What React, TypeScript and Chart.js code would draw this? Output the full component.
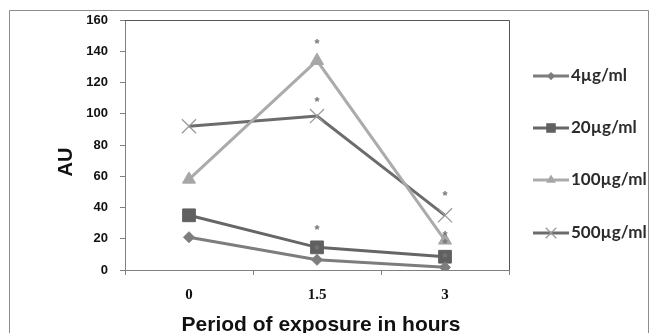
import React, { useEffect, useRef } from "react";
import { Chart, registerables } from "chart.js";

Chart.register(...registerables);

const categories = ["0", "1.5", "3"];
const yTicks = [0, 20, 40, 60, 80, 100, 120, 140, 160];
const series4 = [21, 6.5, 1.7];
const series20 = [35, 14.5, 8.5];
const series100 = [58, 134, 19];
const series500 = [92, 98.5, 35];
const seriesLabels = ["4µg/ml", "20µg/ml", "100µg/ml", "500µg/ml"];
// asterisk annotations: category index and value
const starCats = [1, 1, 1, 1, 2, 2, 2, 2];
const starValues = [146, 109, 27.5, 14.5, 49, 23.5, 18, 9.5];

const seriesStyle = [
  { line: "#7d7d7d", point: "#7d7d7d", style: "rectRot", radius: 5.5, pbw: 1 },
  { line: "#666666", point: "#606060", style: "rect", radius: 9, pbw: 1 },
  { line: "#ababab", point: "#a6a6a6", style: "triangle", radius: 7.5, pbw: 1 },
  { line: "#6c6c6c", point: "#9a9a9a", style: "crossRot", radius: 10, pbw: 1.3 },
];

function drawMarker(ctx: CanvasRenderingContext2D, style: string, x: number, y: number, r: number, color: string, bw: number) {
  ctx.save();
  ctx.fillStyle = color;
  ctx.strokeStyle = color;
  ctx.lineWidth = bw;
  ctx.beginPath();
  if (style === "rectRot") {
    ctx.moveTo(x, y - r);
    ctx.lineTo(x + r, y);
    ctx.lineTo(x, y + r);
    ctx.lineTo(x - r, y);
    ctx.closePath();
    ctx.fill();
  } else if (style === "rect") {
    const s = r * 0.707;
    ctx.rect(x - s, y - s, 2 * s, 2 * s);
    ctx.fill();
  } else if (style === "triangle") {
    ctx.moveTo(x, y - r);
    ctx.lineTo(x + r * 0.87, y + r * 0.5);
    ctx.lineTo(x - r * 0.87, y + r * 0.5);
    ctx.closePath();
    ctx.fill();
  } else {
    const s = r * 0.707;
    ctx.moveTo(x - s, y - s);
    ctx.lineTo(x + s, y + s);
    ctx.moveTo(x + s, y - s);
    ctx.lineTo(x - s, y + s);
    ctx.stroke();
  }
  ctx.restore();
}

export default function App() {
  const ref = useRef<HTMLCanvasElement | null>(null);
  useEffect(() => {
    document.body.style.margin = "0";
    const canvas = ref.current!;
    const values = [series4, series20, series100, series500];
    const decorPlugin = {
      id: "decor",
      beforeDraw(chart: any) {
        const ctx = chart.ctx;
        ctx.save();
        ctx.fillStyle = "#ffffff";
        ctx.fillRect(0, 0, chart.width, chart.height);
        ctx.strokeStyle = "#8c8c8c";
        ctx.lineWidth = 1;
        ctx.beginPath();
        ctx.moveTo(9.5, 340);
        ctx.lineTo(9.5, 10.5);
        ctx.lineTo(648.5, 10.5);
        ctx.lineTo(648.5, 340);
        ctx.stroke();
        ctx.restore();
      },
      afterDraw(chart: any) {
        const ctx = chart.ctx;
        const a = chart.chartArea;
        const xs = chart.scales.x;
        const ys = chart.scales.y;
        ctx.save();
        ctx.strokeStyle = "#555555";
        ctx.lineWidth = 1;
        ctx.beginPath();
        ctx.moveTo(a.left, Math.round(a.top) + 0.5);
        ctx.lineTo(Math.round(a.right) + 0.5, Math.round(a.top) + 0.5);
        ctx.lineTo(Math.round(a.right) + 0.5, a.bottom);
        ctx.stroke();
        ctx.fillStyle = "#777777";
        ctx.font = "bold 13px 'Liberation Sans'";
        ctx.textAlign = "center";
        ctx.textBaseline = "middle";
        for (let i = 0; i < starCats.length; i++) {
          const px = xs.getPixelForValue(starCats[i]);
          const py = ys.getPixelForValue(starValues[i]);
          ctx.fillText("*", px, py + 3);
        }
        ctx.fillStyle = "#111111";
        ctx.font = "bold 21px 'Liberation Sans'";
        ctx.textAlign = "center";
        ctx.textBaseline = "alphabetic";
        ctx.fillText("Period of exposure in hours", 321, 331);
        ctx.save();
        ctx.translate(72, 162);
        ctx.rotate(-Math.PI / 2);
        ctx.font = "bold 20px 'Liberation Sans'";
        ctx.fillText("AU", 0, 0);
        ctx.restore();
        const legendY = [76, 128, 180, 233];
        chart.data.datasets.forEach((ds: any, i: number) => {
          const y = legendY[i];
          const st = seriesStyle[i];
          ctx.strokeStyle = st.line;
          ctx.lineWidth = 3;
          ctx.beginPath();
          ctx.moveTo(533, y);
          ctx.lineTo(569, y);
          ctx.stroke();
          drawMarker(ctx, st.style, 551, y, st.radius * 0.75, st.point, st.pbw);
          ctx.fillStyle = "#2b2b2b";
          ctx.font = "bold 17px Lato";
          ctx.textAlign = "left";
          ctx.textBaseline = "middle";
          ctx.fillText(ds.label, 571, y);
        });
        ctx.restore();
      },
    };
    const chart = new Chart(canvas, {
      type: "line",
      data: {
        labels: categories,
        datasets: values.map((v, i) => ({
          label: seriesLabels[i],
          data: v,
          borderColor: seriesStyle[i].line,
          backgroundColor: seriesStyle[i].point,
          pointBackgroundColor: seriesStyle[i].point,
          pointBorderColor: seriesStyle[i].point,
          pointStyle: seriesStyle[i].style as any,
          pointRadius: seriesStyle[i].radius,
          pointBorderWidth: seriesStyle[i].pbw,
          borderWidth: 3,
          tension: 0,
          fill: false,
        })),
      },
      options: {
        animation: false,
        responsive: false,
        maintainAspectRatio: false,
        events: [],
        layout: { padding: { left: 0, top: 20, right: 140, bottom: 0 } },
        plugins: {
          legend: { display: false },
          tooltip: { enabled: false },
        },
        scales: {
          x: {
            type: "category",
            offset: true,
            grid: {
              offset: true,
              drawOnChartArea: false,
              drawTicks: true,
              tickLength: 5,
              color: "#808080",
            },
            border: { display: true, color: "#808080", width: 1 },
            ticks: {
              color: "#111111",
              padding: 11,
              font: { family: "'Liberation Serif'", size: 15, weight: "bold" },
            },
            afterFit: (s: any) => {
              s.height = 63;
            },
          },
          y: {
            min: 0,
            max: 160,
            afterBuildTicks: (s: any) => {
              s.ticks = yTicks.map((v) => ({ value: v }));
            },
            grid: {
              drawOnChartArea: false,
              drawTicks: true,
              tickLength: 5,
              color: "#808080",
            },
            border: { display: true, color: "#808080", width: 1 },
            ticks: {
              color: "#111111",
              padding: 12,
              font: { family: "'Liberation Sans'", size: 13, weight: "bold" },
            },
            afterFit: (s: any) => {
              s.width = 125;
            },
          },
        },
      },
      plugins: [decorPlugin],
    });
    return () => chart.destroy();
  }, []);
  return <canvas ref={ref} width={649} height={333} style={{ display: "block" }} />;
}
